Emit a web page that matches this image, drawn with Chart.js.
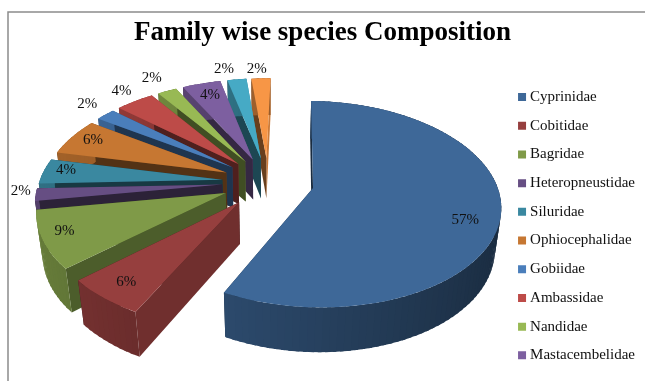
<!DOCTYPE html>
<html>
<head>
<meta charset="utf-8">
<title>Family wise species Composition</title>
<script src="https://cdn.jsdelivr.net/npm/chart.js@4/dist/chart.umd.js"></script>
<style>
  html, body { margin: 0; padding: 0; background: #fff; }
  canvas { display: block; }
</style>
</head>
<body>
<canvas id="speciesChart" width="645" height="381"></canvas>
<script>
const families = ["Cyprinidae", "Cobitidae", "Bagridae", "Heteropneustidae", "Siluridae",
  "Ophiocephalidae", "Gobiidae", "Ambassidae", "Nandidae", "Mastacembelidae"];
const sharePercent = [57, 6, 9, 2, 4, 6, 2, 4, 2, 4, 2, 2];
const sliceColours = ["#3e6898", "#963f3e", "#7f9a48", "#664e83", "#3a88a0", "#c67732",
  "#4a7ebb", "#bd4b48", "#98b954", "#7d5fa0", "#46aac5", "#f79646"];

// camera for the tilted pie
const view = { cx: 268, cy: 182, tilt: 32.7 * Math.PI / 180, focal: 1000, depth: 50 };

// where each percentage sits: fraction of the radius, and degrees past the slice middle
const labelReach = [0.83, 0.85, 0.88, 1.085, 0.88, 0.87, 1.19, 1.17, 1.21, 0.825, 1.16, 1.14];
const labelTurn = [7.2, 0, 2, 2.5, 1.3, 1.3, 1.5, 0.8, -0.4, 0.3, -3.2, -1.2];

function project(wx, wy, z) {
  const sinT = Math.sin(view.tilt), cosT = Math.cos(view.tilt);
  const s = view.focal / (view.focal - wy * cosT - z * sinT);
  return [view.cx + wx * s, view.cy + (wy * sinT - z * cosT) * s];
}

function shade(hex, f) {
  const n = parseInt(hex.slice(1), 16);
  const ch = [n >> 16, (n >> 8) & 255, n & 255].map(c => Math.round(c * f));
  return `rgb(${ch[0]},${ch[1]},${ch[2]})`;
}

function fillPoly(ctx, pts, colour) {
  ctx.beginPath();
  pts.forEach((p, i) => i ? ctx.lineTo(p[0], p[1]) : ctx.moveTo(p[0], p[1]));
  ctx.closePath();
  ctx.fillStyle = colour;
  ctx.fill();
}

// pie controller that draws each arc element as an exploded solid slice
class Pie3dController extends Chart.PieController {
  drawSlice(ctx, arc) {
    const { startAngle, endAngle, outerRadius } = arc;
    const colour = arc.options.backgroundColor;
    const mid = (startAngle + endAngle) / 2;
    const ox = Math.cos(mid) * arc.options.offset;
    const oy = Math.sin(mid) * arc.options.offset;
    const h = view.depth;
    const rim = (a, z) => project(ox + Math.cos(a) * outerRadius, oy + Math.sin(a) * outerRadius, z);

    // flat faces either side of the slice, the one facing the viewer last;
    // brighter when they turn to the right
    [[startAngle, -Math.PI / 2], [endAngle, Math.PI / 2]]
      .sort((p, q) => Math.sin(p[0] + p[1]) - Math.sin(q[0] + q[1]))
      .forEach(([a, turn]) => {
        const nx = Math.max(0, Math.cos(a + turn));
        fillPoly(ctx, [project(ox, oy, 0), rim(a, 0), rim(a, -h), project(ox, oy, -h)],
          shade(colour, 0.42 + 0.41 * nx * nx));
      });

    // curved outer wall, darkening towards the right; strips overlap so no seams show
    const step = Math.PI / 90;
    for (let a = startAngle; a < endAngle; a += step) {
      const b = Math.min(a + step * 1.5, endAngle);
      const clock = a + step / 2 + Math.PI / 2;
      fillPoly(ctx, [rim(a, 0), rim(b, 0), rim(b, -h), rim(a, -h)],
        shade(colour, 0.62 - 0.2 * Math.sin(clock)));
    }

    // top surface
    const top = [project(ox, oy, 0)];
    for (let a = startAngle; a < endAngle; a += step) top.push(rim(a, 0));
    top.push(rim(endAngle, 0));
    fillPoly(ctx, top, colour);
  }

  drawLabel(ctx, arc, i) {
    const mid = (arc.startAngle + arc.endAngle) / 2;
    const a = mid + labelTurn[i] * Math.PI / 180;
    const r = arc.outerRadius * labelReach[i];
    const p = project(Math.cos(mid) * arc.options.offset + Math.cos(a) * r,
      Math.sin(mid) * arc.options.offset + Math.sin(a) * r, 0);
    ctx.fillStyle = "#111";
    ctx.fillText(`${sharePercent[i]}%`, p[0], p[1]);
  }

  draw() {
    const ctx = this.chart.ctx;
    const arcs = this.getMeta().data;
    const byDepth = arcs.slice().sort((p, q) =>
      Math.sin((p.startAngle + p.endAngle) / 2) - Math.sin((q.startAngle + q.endAngle) / 2));
    ctx.save();
    byDepth.forEach(arc => this.drawSlice(ctx, arc));
    ctx.font = "15px 'Liberation Serif'";
    ctx.textAlign = "center";
    ctx.textBaseline = "middle";
    arcs.forEach((arc, i) => this.drawLabel(ctx, arc, i));
    ctx.restore();
  }
}
Pie3dController.id = "pie3d";
Pie3dController.defaults = Chart.PieController.defaults;
Chart.register(Pie3dController);

// thin grey frame, open on the right and at the bottom
const frameLines = {
  id: "frameLines",
  beforeDraw(chart) {
    const ctx = chart.ctx;
    ctx.save();
    ctx.strokeStyle = "#8c8c8c";
    ctx.lineWidth = 1.5;
    ctx.beginPath();
    ctx.moveTo(8, chart.height);
    ctx.lineTo(8, 12);
    ctx.lineTo(chart.width, 12);
    ctx.stroke();
    ctx.restore();
  }
};

new Chart(document.getElementById("speciesChart"), {
  type: "pie3d",
  data: {
    labels: families,
    datasets: [{
      data: sharePercent,
      backgroundColor: sliceColours,
      borderWidth: 0,
      radius: 183,
      offset: 46,
      clip: false
    }]
  },
  options: {
    responsive: false,
    animation: false,
    events: [],
    rotation: 1.5,
    plugins: {
      tooltip: { enabled: false },
      title: {
        display: true,
        text: "Family wise species Composition",
        color: "#000",
        font: { family: "'Liberation Serif'", size: 27, weight: "bold" },
        padding: { top: 17, bottom: 22 }
      },
      legend: {
        position: "right",
        fullSize: false,
        labels: {
          usePointStyle: true,
          pointStyle: "rect",
          boxWidth: 1,
          boxHeight: 8,
          color: "#111",
          padding: 13.7,
          font: { family: "'Liberation Serif'", size: 15 }
        }
      }
    }
  },
  plugins: [frameLines]
});
</script>
</body>
</html>
